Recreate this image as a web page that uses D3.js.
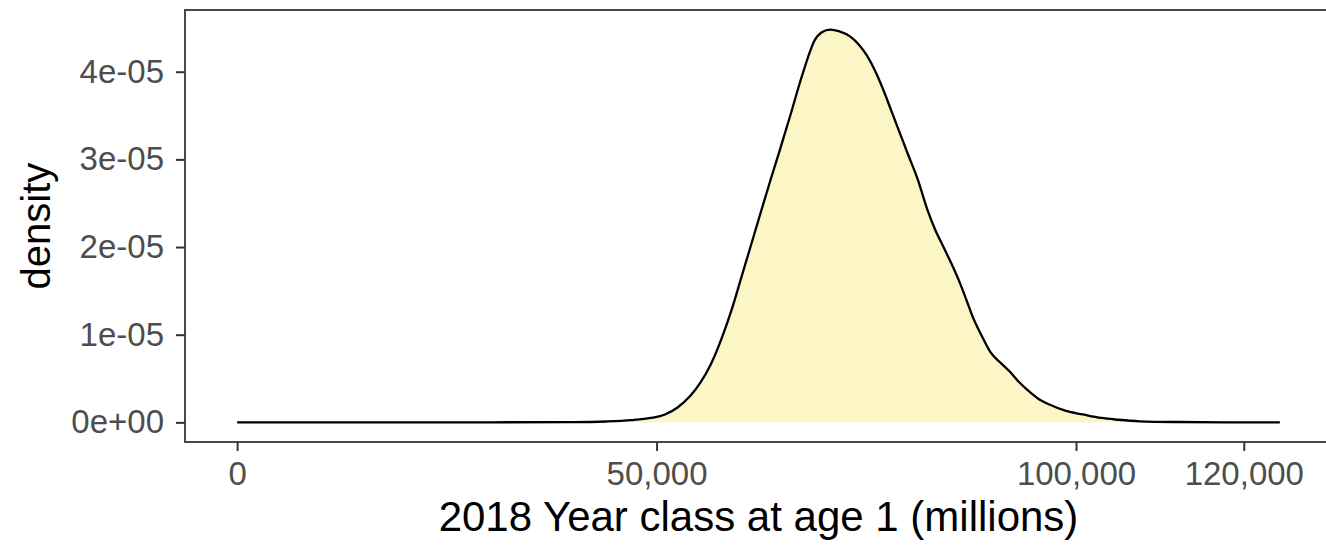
<!DOCTYPE html>
<html>
<head>
<meta charset="utf-8">
<script src="https://cdn.jsdelivr.net/npm/d3@7"></script>
<style>
  html, body { margin: 0; padding: 0; background: #fff; }
  svg { display: block; font-family: "Liberation Sans", Arial, Helvetica, sans-serif; }
</style>
</head>
<body>
<svg id="chart" width="1326" height="546"></svg>
<script>
// ---- data ----
const yearClass = [0, 10000, 20000, 30000, 40000, 44000, 47000, 49300, 51000, 52500, 54000, 55200, 56500, 57800, 59000, 60000, 61000, 62400, 63600, 64800, 66000, 67100, 68000, 68800, 69700, 70700, 71800, 73100, 74200, 75100, 76000, 77000, 78000, 79000, 80000, 81100, 82300, 83200, 84200, 85200, 86200, 87000, 87700, 88800, 89800, 91000, 92100, 93200, 94200, 95500, 96900, 98800, 100800, 103000, 105000, 107600, 112000, 118000, 124300];
const densityE5 = [0, 0, 0, 0.0005, 0.003, 0.01, 0.025, 0.05, 0.09, 0.17, 0.30, 0.45, 0.67, 0.97, 1.30, 1.62, 1.94, 2.39, 2.77, 3.14, 3.52, 3.88, 4.15, 4.35, 4.45, 4.48, 4.46, 4.40, 4.30, 4.18, 4.02, 3.80, 3.55, 3.30, 3.05, 2.78, 2.42, 2.20, 2.00, 1.80, 1.58, 1.38, 1.20, 0.98, 0.80, 0.68, 0.58, 0.46, 0.37, 0.27, 0.20, 0.13, 0.09, 0.05, 0.03, 0.012, 0.004, 0.001, 0];
const xTicks = [0, 50000, 100000, 120000];
const xTickLabels = ["0", "50,000", "100,000", "120,000"];
const yTicks = [0, 1e-5, 2e-5, 3e-5, 4e-5];
const yTickLabels = ["0e+00", "1e-05", "2e-05", "3e-05", "4e-05"];
const xTitle = "2018 Year class at age 1 (millions)";
const yTitle = "density";

const data = yearClass.map((x, i) => ({ x: x, y: densityE5[i] * 1e-5 }));

// ---- layout ----
const svg = d3.select("#chart");
const panel = { left: 185, right: 1332, top: 10, bottom: 442 };

const xMin = d3.min(yearClass), xMax = d3.max(yearClass);
const xPad = (xMax - xMin) * 0.05;
const yMax = d3.max(data, d => d.y);
const yPad = yMax * 0.05;

const x = d3.scaleLinear().domain([xMin - xPad, xMax + xPad]).range([panel.left, panel.right]);
const y = d3.scaleLinear().domain([0 - yPad, yMax + yPad]).range([panel.bottom, panel.top]);

// panel background
svg.append("rect")
  .attr("x", panel.left).attr("y", panel.top)
  .attr("width", panel.right - panel.left).attr("height", panel.bottom - panel.top)
  .attr("fill", "#fff");

// density area + line
const area = d3.area().x(d => x(d.x)).y0(y(0)).y1(d => y(d.y)).curve(d3.curveMonotoneX);
const line = d3.line().x(d => x(d.x)).y(d => y(d.y)).curve(d3.curveMonotoneX);

svg.append("path").datum(data).attr("d", area).attr("fill", "#fcf6c6").attr("stroke", "none");
svg.append("path").datum(data).attr("d", line).attr("fill", "none")
  .attr("stroke", "#000").attr("stroke-width", 2.3).attr("stroke-linejoin", "round");

// panel border
svg.append("rect")
  .attr("x", panel.left).attr("y", panel.top)
  .attr("width", panel.right - panel.left).attr("height", panel.bottom - panel.top)
  .attr("fill", "none").attr("stroke", "#4a4a4a").attr("stroke-width", 2);

// axes
const xAxis = d3.axisBottom(x).tickValues(xTicks)
  .tickFormat((d, i) => xTickLabels[i]).tickSize(9).tickPadding(11);
const yAxis = d3.axisLeft(y).tickValues(yTicks)
  .tickFormat((d, i) => yTickLabels[i]).tickSize(9).tickPadding(12);

const gx = svg.append("g").attr("transform", `translate(0,${panel.bottom})`).call(xAxis);
const gy = svg.append("g").attr("transform", `translate(${panel.left},0)`).call(yAxis);

[gx, gy].forEach(g => {
  g.select(".domain").remove();
  g.selectAll(".tick line").attr("stroke", "#333").attr("stroke-width", 2);
  g.selectAll(".tick text")
    .attr("fill", "#4d4d4d")
    .style("font-family", "'Liberation Sans', Arial, sans-serif")
    .style("font-size", "33px");
});

// axis titles
svg.append("text")
  .attr("x", (panel.left + panel.right) / 2).attr("y", 531)
  .attr("text-anchor", "middle")
  .style("font-size", "42px").attr("fill", "#000")
  .text(xTitle);

svg.append("text")
  .attr("transform", `translate(50,${(panel.top + panel.bottom) / 2}) rotate(-90)`)
  .attr("text-anchor", "middle")
  .style("font-size", "40px").attr("fill", "#000")
  .text(yTitle);
</script>
</body>
</html>
